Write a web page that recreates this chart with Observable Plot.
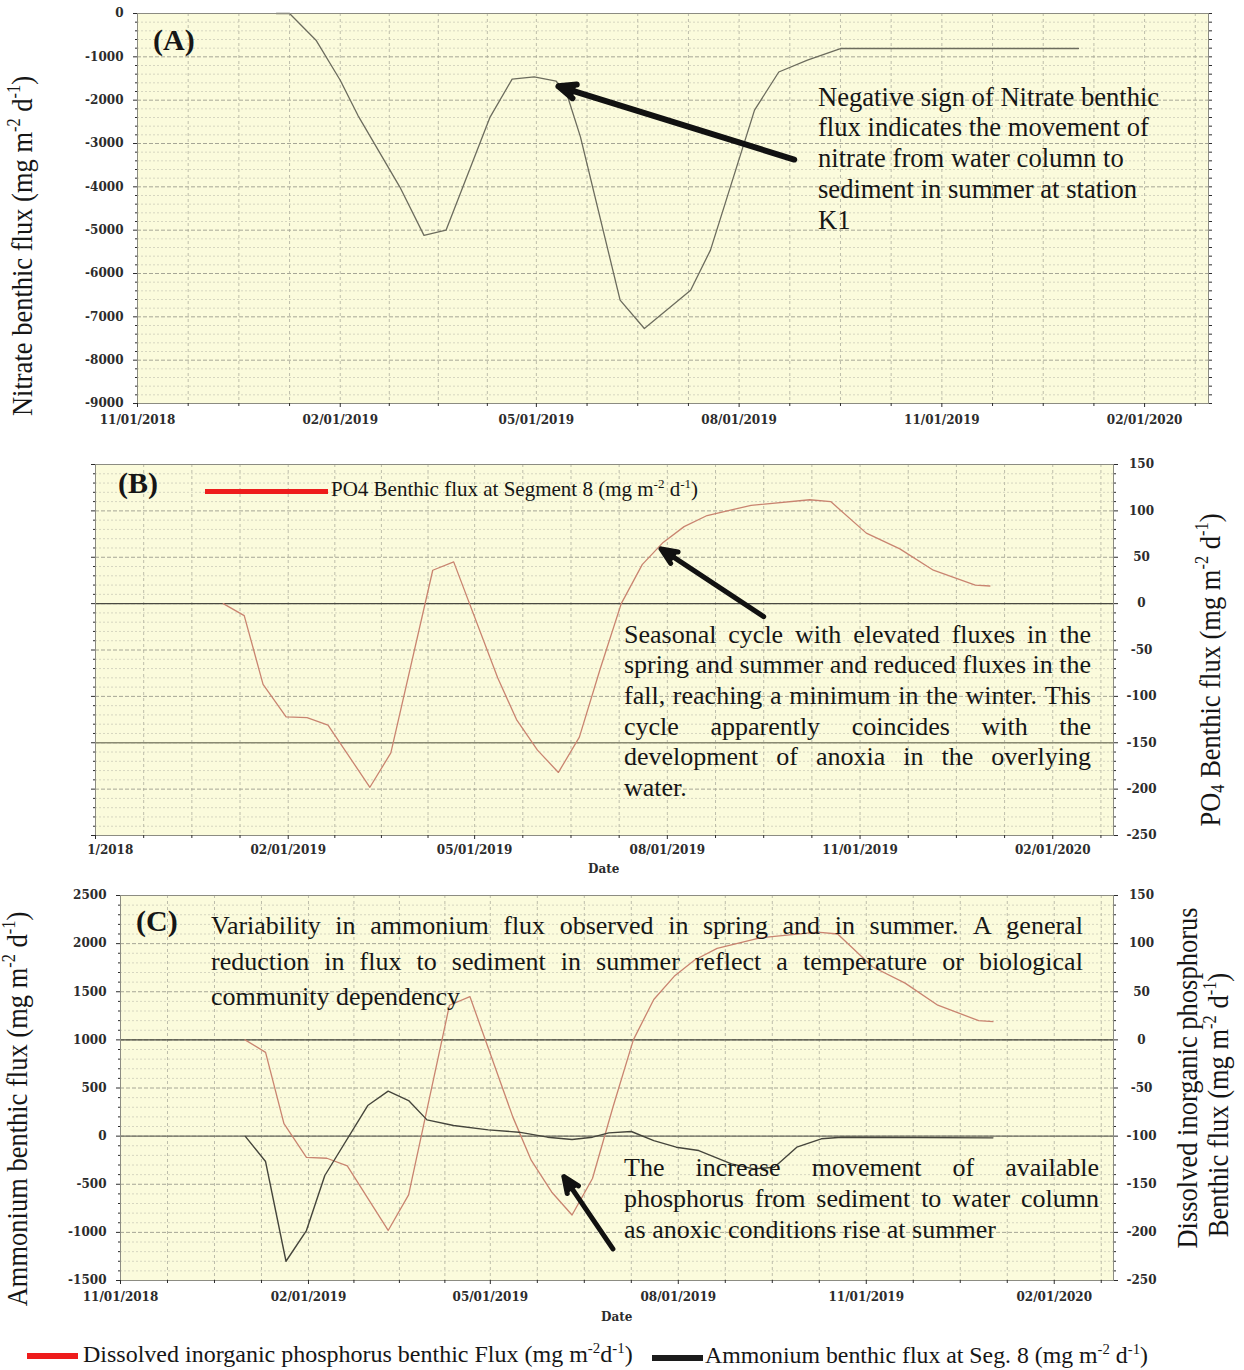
<!DOCTYPE html>
<html><head><meta charset="utf-8">
<script src="https://cdn.jsdelivr.net/npm/d3@7"></script>
<script src="https://cdn.jsdelivr.net/npm/@observablehq/plot@0.6"></script>
<style>
body{margin:0;background:#fff;}
#root{position:relative;width:1244px;height:1370px;font-family:"Liberation Serif","Times New Roman",serif;color:#161616;overflow:hidden;}
sup{font-size:0.62em;vertical-align:0.62em;line-height:0;}
sub{font-size:0.62em;vertical-align:-0.22em;line-height:0;}
</style></head>
<body><div id="root"></div>
<script>
const parse = d3.utcParse("%Y-%m-%d");
const fmt = d3.utcFormat("%m/%d/%Y");

// ---------- shared time axis ----------
const xDomainDates = ["2018-11-01", "2020-03-01"];
const majorTickDates = ["2018-11-01","2019-02-01","2019-05-01","2019-08-01","2019-11-01","2020-02-01"];

// ---------- Panel A: nitrate ----------
const nitrateDates = ["2019-01-03","2019-01-09","2019-01-21","2019-02-01","2019-02-09","2019-02-28","2019-03-11","2019-03-21","2019-04-10","2019-04-20","2019-04-30","2019-05-10","2019-05-15","2019-05-21","2019-06-08","2019-06-19","2019-07-10","2019-07-19","2019-08-08","2019-08-19","2019-09-01","2019-09-16","2020-01-02"];
const nitrateValues = [0,0,-616,-1540,-2350,-4000,-5120,-5000,-2390,-1515,-1463,-1563,-1885,-2846,-6615,-7270,-6385,-5460,-2230,-1350,-1077,-808,-808];

// ---------- Panels B & C: dissolved inorganic phosphorus (PO4) ----------
const dipDates = ["2019-01-01","2019-01-11","2019-01-20","2019-01-31","2019-02-10","2019-02-20","2019-03-12","2019-03-22","2019-04-11","2019-04-21","2019-05-12","2019-05-21","2019-05-31","2019-06-10","2019-06-20","2019-06-30","2019-07-10","2019-07-20","2019-07-30","2019-08-09","2019-08-20","2019-09-10","2019-10-08","2019-10-18","2019-11-04","2019-11-20","2019-12-06","2019-12-26","2020-01-02"];
const dipValues = [0,-13,-87,-122,-123,-131,-198,-161,36,45,-80,-125,-158,-182,-144,-70,0,42,66,83,95,106,112,110,76,59,36,20,19];

// ---------- Panel C: ammonium ----------
const nh4Dates = ["2019-01-01","2019-01-11","2019-01-21","2019-01-31","2019-02-09","2019-03-02","2019-03-12","2019-03-22","2019-03-31","2019-04-13","2019-04-30","2019-05-15","2019-05-29","2019-06-10","2019-06-20","2019-06-28","2019-07-09","2019-07-20","2019-07-31","2019-08-11","2019-08-27","2019-09-07","2019-09-17","2019-09-28","2019-10-10","2019-10-20","2020-01-02"];
const nh4Values = [0,-264,-1300,-981,-409,318,467,370,169,110,65,41,-11,-35,-11,34,48,-46,-115,-150,-288,-340,-323,-115,-28,-11,-18];

// ---------- annotation arrows (data coordinates) ----------
const arrowA = [{from: "2019-08-26", fromV: -3370, to: "2019-05-11", toV: -1680}];
const arrowB = [{from: "2019-09-16", fromV: -14, to: "2019-07-29", toV: 59}];
const arrowC = [{from: "2019-06-30", fromV: -1171, to: "2019-06-06", toV: -420}];

// reference lines
const refB = [0, -150];
const refC = [1000, 0];

// ---------- derived tables ----------
const xDomain = xDomainDates.map(parse);
const majorX = majorTickDates.map(parse);
const minorX = [];
for (let i = 0; i < majorX.length - 1; i++) {
  const a = +majorX[i], b = +majorX[i + 1];
  for (let k = 1; k < 4; k++) minorX.push(new Date(a + (b - a) * k / 4));
}
{
  const step = (majorX[5] - majorX[4]) / 4;
  for (let t = +majorX[5] + step; t <= +xDomain[1]; t += step) minorX.push(new Date(t));
}
const toRows = (ds, vs) => ds.map((d, i) => ({date: parse(d), value: vs[i]}));
const nitrate = toRows(nitrateDates, nitrateValues);
const dip = toRows(dipDates, dipValues);
const nh4 = toRows(nh4Dates, nh4Values);
const arrows = (arr) => arr.map(a => ({x1: parse(a.from), y1: a.fromV, x2: parse(a.to), y2: a.toV}));

const BG = "#fbfbdc", GMAJ = "#a6a696", GMIN = "#d6d6c0", GV = "#bdbdaa";
const RED = "#c98470", BLK = "#45453c", NITRO = "#6c6c5e";
const blank = () => "";
const style = {background: "transparent", fontFamily: "'DejaVu Serif'", fontWeight: "bold", fontSize: "12px", color: "#2c2c2c", overflow: "visible", position: "absolute", left: "0px"};
const arrowOpts = (w, h) => ({x1: "x1", y1: "y1", x2: "x2", y2: "y2", stroke: "#111", fill: "#111", strokeWidth: w, headLength: h, headAngle: 46, strokeLinejoin: "miter"});

function gridMarks(minorY, majorY) {
  return [
    Plot.frame({fill: BG, stroke: null}),
    Plot.ruleY(minorY, {stroke: GMIN, strokeDasharray: "2,2"}),
    Plot.ruleX(minorX, {stroke: GV, strokeDasharray: "3,3"}),
    Plot.ruleX(majorX, {stroke: GV, strokeDasharray: "3,3"}),
    Plot.ruleY(majorY, {stroke: GMAJ, strokeDasharray: "4,2"})
  ];
}
function xAxes(pad) {
  return [
    Plot.axisX(majorX, {tickFormat: fmt, tickSize: 4, tickPadding: pad, label: null}),
    Plot.axisX(minorX, {tickFormat: blank, tickSize: 3, label: null})
  ];
}

const root = document.getElementById("root");
function mount(svg, top) { svg.style.top = top + "px"; root.appendChild(svg); }

// ---------- Panel A ----------
const majorA = d3.range(-9000, 1, 1000), minorA = d3.range(-9000, 1, 200).filter(v => v % 1000);
mount(Plot.plot({
  width: 1244, height: 440, marginTop: 13, marginBottom: 37, marginLeft: 137, marginRight: 36,
  style,
  x: {type: "utc", domain: xDomain},
  y: {domain: [-9000, 0]},
  marks: [
    ...gridMarks(minorA, majorA),
    Plot.line(nitrate, {x: "date", y: "value", stroke: NITRO, strokeWidth: 1.3}),
    Plot.arrow(arrows(arrowA), arrowOpts(6, 4.6)),
    Plot.frame({stroke: "#8c8c82"}),
    ...xAxes(8),
    Plot.axisY(majorA, {tickSize: 4, tickPadding: 10, tickFormat: String, label: null}),
    Plot.axisY(minorA, {tickSize: 2, tickFormat: blank, label: null}),
    Plot.axisY(minorA.concat(majorA), {anchor: "right", tickSize: 3, tickFormat: blank, label: null})
  ]
}), 0);

// ---------- Panel B ----------
const majorB = d3.range(-250, 151, 50), minorB = d3.range(-250, 151, 10).filter(v => v % 50);
mount(Plot.plot({
  width: 1244, height: 440, marginTop: 24, marginBottom: 45, marginLeft: 95, marginRight: 131,
  style,
  x: {type: "utc", domain: xDomain},
  y: {domain: [-250, 150]},
  marks: [
    ...gridMarks(minorB, majorB),
    Plot.ruleY(refB, {stroke: (d) => d === 0 ? "#4a4a42" : "#8a8a72", strokeWidth: (d) => d === 0 ? 1.2 : 1.6}),
    Plot.line(dip, {x: "date", y: "value", stroke: RED, strokeWidth: 1.3}),
    Plot.arrow(arrows(arrowB), arrowOpts(5, 5.2)),
    Plot.frame({stroke: "#8c8c82"}),
    ...xAxes(6),
    Plot.axisY(majorB, {tickSize: 4, tickFormat: blank, label: null}),
    Plot.axisY(minorB, {tickSize: 2, tickFormat: blank, label: null}),
    Plot.axisY(majorB, {anchor: "right", tickSize: 4, tickPadding: 24, textAnchor: "middle", tickFormat: String, label: null}),
    Plot.axisY(minorB, {anchor: "right", tickSize: 2, tickFormat: blank, label: null})
  ]
}), 440);

// ---------- Panel C ----------
const majorC = d3.range(-1500, 2501, 500), minorC = d3.range(-1500, 2501, 100).filter(v => v % 500);
const dipToLeft = (v) => v * 10 + 1000;
const leftToDip = (v) => String((v - 1000) / 10);
mount(Plot.plot({
  width: 1244, height: 440, marginTop: 15, marginBottom: 40, marginLeft: 120, marginRight: 131,
  style,
  x: {type: "utc", domain: xDomain},
  y: {domain: [-1500, 2500]},
  marks: [
    ...gridMarks(minorC, majorC),
    Plot.ruleY(refC, {stroke: (d) => d === 1000 ? "#45453d" : "#6c6c60", strokeWidth: 1.1}),
    Plot.line(dip, {x: "date", y: (d) => dipToLeft(d.value), stroke: RED, strokeWidth: 1.3}),
    Plot.line(nh4, {x: "date", y: "value", stroke: BLK, strokeWidth: 1.4}),
    Plot.arrow(arrows(arrowC), arrowOpts(5, 5.2)),
    Plot.frame({stroke: "#8c8c82"}),
    ...xAxes(8),
    Plot.axisY(majorC, {tickSize: 4, tickPadding: 10, tickFormat: String, label: null}),
    Plot.axisY(minorC, {tickSize: 2, tickFormat: blank, label: null}),
    Plot.axisY(majorC, {anchor: "right", tickSize: 4, tickPadding: 24, textAnchor: "middle", tickFormat: leftToDip, label: null}),
    Plot.axisY(minorC, {anchor: "right", tickSize: 2, tickFormat: blank, label: null})
  ]
}), 880);

// ---------- HTML text overlays ----------
function place(html, {left, baseline, size, width, justify, weight, family, color}) {
  const d = document.createElement("div");
  d.style.cssText = `position:absolute;left:${left}px;top:${baseline - 0.8375 * size}px;font-size:${size}px;line-height:${size}px;white-space:nowrap;` +
    (weight ? `font-weight:${weight};` : "") + (family ? `font-family:${family};` : "") + (color ? `color:${color};` : "");
  if (justify) {
    d.style.display = "flex"; d.style.justifyContent = "space-between"; d.style.width = width + "px";
    d.innerHTML = html.split(" ").map(w => `<span>${w}</span>`).join("");
  } else d.innerHTML = html;
  root.appendChild(d);
  return d;
}
function paragraph(lines, {left, baseline0, step, size, width, justify}) {
  lines.forEach((t, i) => place(t, {left, baseline: baseline0 + i * step, size, width, justify: justify && i < lines.length - 1}));
}
function vlabel(html, {cx, cy, size, stretch = 1.12}) {
  const d = document.createElement("div");
  d.style.cssText = `position:absolute;left:${cx}px;top:${cy}px;font-size:${size}px;line-height:${size}px;white-space:nowrap;transform:translate(-50%,-50%) rotate(-90deg) scaleY(${stretch});`;
  d.innerHTML = html;
  root.appendChild(d);
}
function bar(left, top, width, height, color) {
  const d = document.createElement("div");
  d.style.cssText = `position:absolute;left:${left}px;top:${top}px;width:${width}px;height:${height}px;background:${color};`;
  root.appendChild(d);
}

// cropped first tick label of panel B (as in the original figure)
bar(0, 838, 88, 22, "#fff");

const unit = "(mg m<sup>-2</sup> d<sup>-1</sup>)";
// panel letters
place("(A)", {left: 153, baseline: 50, size: 30, weight: "bold"});
place("(B)", {left: 118, baseline: 493, size: 30, weight: "bold"});
place("(C)", {left: 136, baseline: 931, size: 30, weight: "bold"});

// axis titles
vlabel(`Nitrate benthic flux ${unit}`, {cx: 22, cy: 246, size: 26.5});
vlabel(`PO<sub>4</sub> Benthic flux ${unit}`, {cx: 1210, cy: 670, size: 26.5});
vlabel(`Ammonium benthic flux ${unit}`, {cx: 17, cy: 1109, size: 26.5});
vlabel(`Dissolved inorganic phosphorus`, {cx: 1187, cy: 1078, size: 26.5});
vlabel(`Benthic flux ${unit}`, {cx: 1218, cy: 1105, size: 26.5});
place("Date", {left: 588, baseline: 873, size: 12, weight: "bold", family: "'DejaVu Serif'", color: "#2c2c2c"});
place("Date", {left: 601, baseline: 1321, size: 12, weight: "bold", family: "'DejaVu Serif'", color: "#2c2c2c"});

// legends
bar(205, 489, 123, 5, "#ee1c1c");
place(`PO4 Benthic flux at Segment 8 ${unit}`, {left: 331, baseline: 497, size: 21});
bar(27, 1353, 51, 6, "#ee1c1c");
place(`Dissolved inorganic phosphorus benthic Flux (mg m<sup>-2</sup>d<sup>-1</sup>)`, {left: 83, baseline: 1362, size: 24});
bar(652, 1355, 51, 6, "#1c1c1c");
place(`Ammonium benthic flux at Seg. 8 ${unit}`, {left: 705, baseline: 1364, size: 23.8});

// annotations
paragraph(["Negative sign of Nitrate benthic", "flux indicates the movement of", "nitrate from water column to", "sediment in summer at station", "K1"],
  {left: 818, baseline0: 106, step: 30.7, size: 26.6});
paragraph(["Seasonal cycle with elevated fluxes in the", "spring and summer and reduced fluxes in the", "fall, reaching a minimum in the winter. This", "cycle apparently coincides with the", "development of anoxia in the overlying", "water."],
  {left: 624, baseline0: 643.5, step: 30.6, size: 26, width: 467, justify: true});
paragraph(["Variability in ammonium flux observed in spring and in summer. A general", "reduction in flux to sediment in summer reflect a temperature or biological", "community dependency"],
  {left: 211, baseline0: 935, step: 35.5, size: 26, width: 872, justify: true});
paragraph(["The increase movement of available", "phosphorus from sediment to water column", "as anoxic conditions rise at summer"],
  {left: 624, baseline0: 1177, step: 30.7, size: 26, width: 475, justify: true});
</script></body></html>
